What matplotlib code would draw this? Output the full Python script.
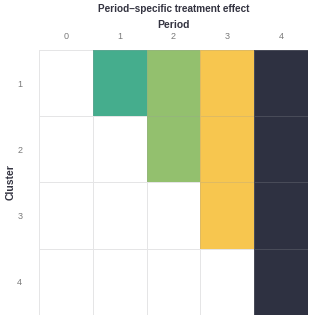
import numpy as np
import matplotlib.pyplot as plt
from matplotlib.colors import ListedColormap

plt.rcParams['font.family'] = ['Liberation Sans', 'DejaVu Sans']

periods = [0, 1, 2, 3, 4]
clusters = [1, 2, 3, 4]
# period in which each cluster switches to treatment
start = [1, 2, 3, 4]
effect = np.array([[p if p >= s else 0 for p in periods] for s in start])

colors = ['#ffffff', '#45ad8d', '#93c06e', '#f7c64f', '#2e3141']
cmap = ListedColormap(colors)

fig = plt.figure(figsize=(3.27, 3.27), dpi=100)
ax = fig.add_axes([0.119, 0.037, 0.823, 0.81])
ax.pcolormesh(np.arange(len(periods) + 1), np.arange(len(clusters) + 1), effect,
              cmap=cmap, vmin=-0.5, vmax=4.5,
              edgecolors=(0.6, 0.6, 0.62, 0.25), linewidth=0.6)
ax.set_xlim(0, len(periods))
ax.set_ylim(len(clusters), 0)
ax.xaxis.tick_top()
ax.xaxis.set_label_position('top')
ax.set_xticks(np.arange(len(periods)) + 0.5)
ax.set_xticklabels(periods)
ax.set_yticks(np.arange(len(clusters)) + 0.5)
ax.set_yticklabels(clusters)
ax.tick_params(length=0, labelsize=6.5, colors='#7a7a7a')
ax.tick_params(axis='x', pad=6.5)
ax.tick_params(axis='y', pad=12)
for s in ax.spines.values():
    s.set_visible(False)
ax.set_xlabel('Period', fontsize=7.5, fontweight='bold', color='#333340', labelpad=3)
ax.set_ylabel('Cluster', fontsize=7.5, fontweight='bold', color='#333340', labelpad=1)
ax.set_title('Period\u2013specific treatment effect', fontsize=7.2, fontweight='bold',
             color='#333340', pad=5.5)

fig.savefig('out.png', dpi=100)
